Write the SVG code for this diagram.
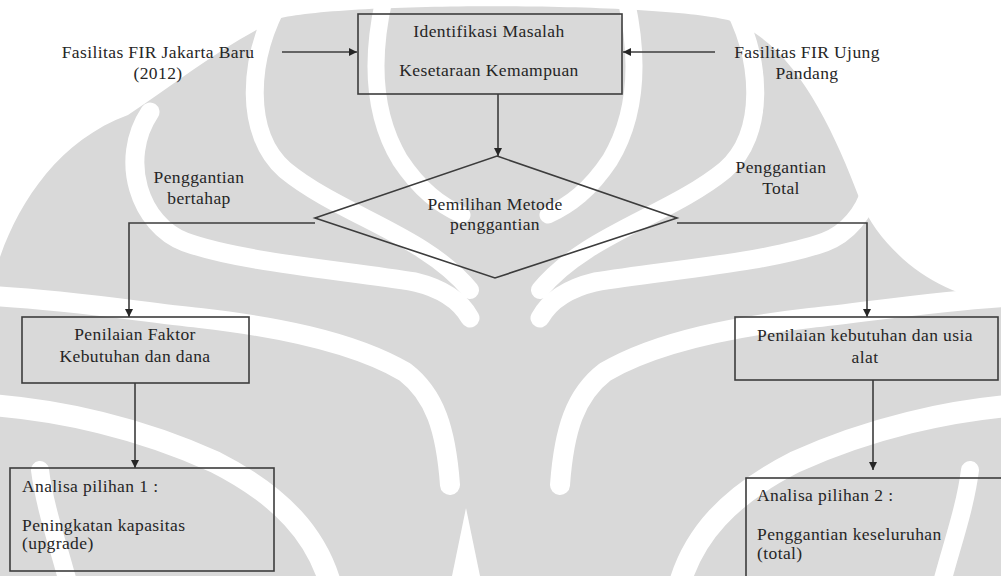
<svg xmlns="http://www.w3.org/2000/svg" xmlns:xlink="http://www.w3.org/1999/xlink" width="1001" height="576" viewBox="0 0 1001 576">
  <style>
    .box { fill: none; stroke: #3c3c3c; stroke-width: 1.6; }
    .wire { fill: none; stroke: #3c3c3c; stroke-width: 1.6; }
    .t { font-family: "Liberation Serif", "DejaVu Serif", serif; font-size: 17.5px; letter-spacing: 0.4px; fill: #262626; }
    .c { text-anchor: middle; }
    .carve { fill: none; stroke: #ffffff; stroke-linecap: round; }
  </style>
  <defs>
    <marker id="arrow" viewBox="0 0 8 8" refX="8" refY="4" markerWidth="8" markerHeight="8" markerUnits="userSpaceOnUse" orient="auto">
      <path d="M0,0 L8,4 L0,8 z" fill="#262626"/>
    </marker>
    <!-- one half of the emblem's cut bands; mirrored for the other half -->
    <g id="bands">
      <path class="carve" stroke-width="18" d="M283,-5 C245,60 245,135 285,170 C340,215 425,235 470,290"/>
      <path class="carve" stroke-width="17" d="M385,-5 C372,50 370,110 400,160 C420,190 440,205 462,215"/>
      <path class="carve" stroke-width="19" d="M150,112 C118,160 140,225 185,242 C240,262 340,270 415,282 C440,288 460,300 470,318"/>
      <path class="carve" stroke-width="20" d="M-10,296 C70,300 140,312 200,318 C270,326 350,340 405,372 C435,395 446,430 450,485"/>
      <path class="carve" stroke-width="22" d="M-10,405 C60,410 140,428 215,462 C280,495 318,535 332,590"/>
      <path class="carve" stroke-width="18" d="M40,470 C45,510 60,550 70,590"/>
    </g>
  </defs>

  <rect width="1001" height="576" fill="#ffffff"/>

  <!-- background emblem -->
  <g id="emblem">
    <path fill="#d9d9d9" d="M281,18 C350,2 650,2 728,20 C790,40 830,120 860,200 C880,250 940,300 1001,300 L1001,576 L0,576 L0,257 C20,200 60,140 128,115 C180,80 230,40 281,18 Z"/>
    <use xlink:href="#bands"/>
    <use xlink:href="#bands" transform="translate(1010,0) scale(-1,1)"/>
    <path fill="#ffffff" d="M452,576 L466,508 L480,576 Z"/>
  </g>

  <!-- connectors -->
  <g id="connectors">
    <path class="wire" d="M282,52 L357,52" marker-end="url(#arrow)"/>
    <path class="wire" d="M715,52 L623,52" marker-end="url(#arrow)"/>
    <path class="wire" d="M498,94 L498,156" marker-end="url(#arrow)"/>
    <path class="wire" d="M315,223 L129,223 L129,317" marker-end="url(#arrow)"/>
    <path class="wire" d="M677,223 L867,223 L867,317" marker-end="url(#arrow)"/>
    <path class="wire" d="M135,383 L135,468" marker-end="url(#arrow)"/>
    <path class="wire" d="M873,380 L873,470" marker-end="url(#arrow)"/>
  </g>

  <g id="src-jakarta">
    <text class="t c" x="158" y="58">Fasilitas FIR Jakarta Baru</text>
    <text class="t c" x="158" y="79">(2012)</text>
  </g>

  <g id="src-ujung-pandang">
    <text class="t c" x="807" y="58">Fasilitas FIR Ujung</text>
    <text class="t c" x="807" y="79">Pandang</text>
  </g>

  <g id="identifikasi">
    <rect class="box" x="358" y="14" width="264" height="80"/>
    <text class="t c" x="489" y="37">Identifikasi Masalah</text>
    <text class="t c" x="489" y="76">Kesetaraan Kemampuan</text>
  </g>

  <g id="pemilihan">
    <polygon class="box" points="497,156 677,218 495,278 315,218"/>
    <text class="t c" x="495" y="210">Pemilihan Metode</text>
    <text class="t c" x="495" y="230">penggantian</text>
  </g>

  <g id="label-bertahap">
    <text class="t c" x="199" y="183">Penggantian</text>
    <text class="t c" x="199" y="204">bertahap</text>
  </g>

  <g id="label-total">
    <text class="t c" x="781" y="173">Penggantian</text>
    <text class="t c" x="781" y="194">Total</text>
  </g>

  <g id="penilaian-faktor">
    <rect class="box" x="22" y="317" width="227" height="66"/>
    <text class="t c" x="135" y="340">Penilaian Faktor</text>
    <text class="t c" x="135" y="362">Kebutuhan dan dana</text>
  </g>

  <g id="penilaian-kebutuhan">
    <rect class="box" x="735" y="317" width="263" height="63"/>
    <text class="t c" x="865" y="341">Penilaian kebutuhan dan usia</text>
    <text class="t c" x="865" y="363">alat</text>
  </g>

  <g id="analisa-1">
    <rect class="box" x="10" y="468" width="264" height="103"/>
    <text class="t" x="22" y="492">Analisa pilihan  1 :</text>
    <text class="t" x="22" y="531">Peningkatan kapasitas</text>
    <text class="t" x="22" y="549">(upgrade)</text>
  </g>

  <g id="analisa-2">
    <rect class="box" x="746" y="478" width="300" height="130"/>
    <text class="t" x="757" y="501">Analisa pilihan  2 :</text>
    <text class="t" x="757" y="540">Penggantian keseluruhan</text>
    <text class="t" x="757" y="559">(total)</text>
  </g>
</svg>
